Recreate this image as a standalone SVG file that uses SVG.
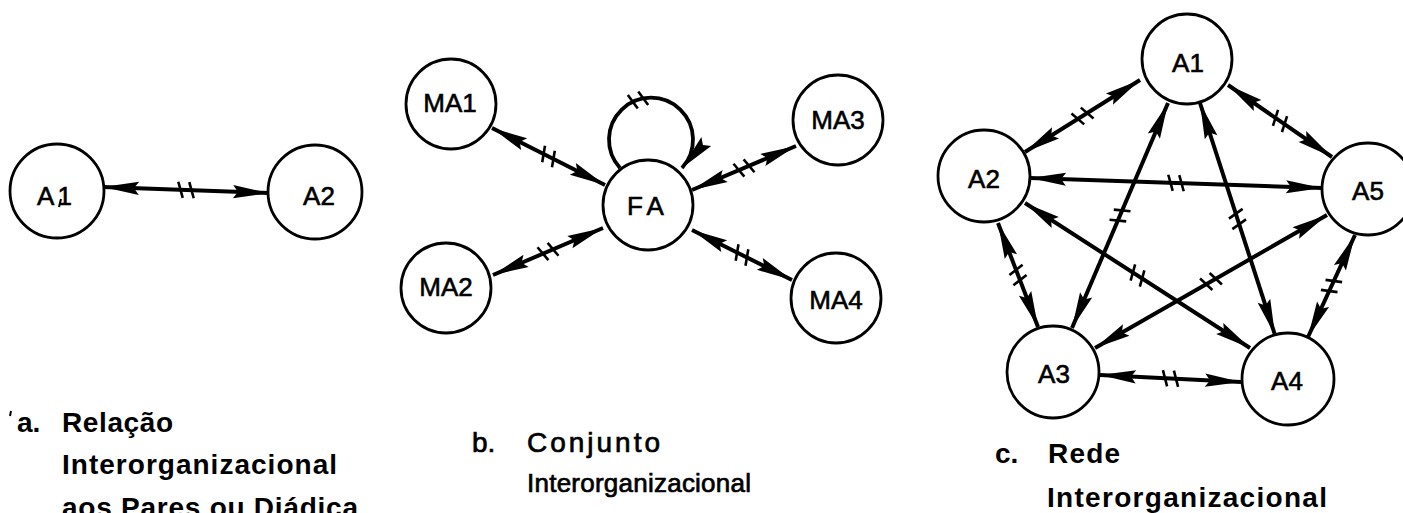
<svg xmlns="http://www.w3.org/2000/svg" xmlns:xlink="http://www.w3.org/1999/xlink" width="1403" height="513" viewBox="0 0 1403 513">
  <style>
    .node circle { fill: #fff; stroke: #000; stroke-width: 2.8; }
    .node text { font-family: "Liberation Sans", Arial, sans-serif; font-size: 26px; fill: #000; stroke: #000; stroke-width: 0.6; text-anchor: middle; }
    .edge { stroke: #000; stroke-width: 4; fill: none; marker-start: url(#ah); marker-end: url(#ah); }
    .loop { stroke: #000; stroke-width: 3.8; fill: none; marker-end: url(#ah); }
    .tick line { stroke: #000; stroke-width: 2.6; }
    .cap { font-family: "Liberation Sans", Arial, sans-serif; font-size: 28px; fill: #000; }
    .bold { font-weight: bold; }
    .med { stroke: #000; stroke-width: 0.7; }
  </style>
  <defs>
    <!-- slender two-way arrowhead, tip on the circle border -->
    <marker id="ah" viewBox="-40 -8 42 16" refX="0" refY="0" markerWidth="42" markerHeight="16" markerUnits="userSpaceOnUse" orient="auto-start-reverse">
      <path d="M0,0 L-36,-6.6 L-31,0 L-36,6.6 Z" fill="#000"/>
    </marker>
    <!-- double slanted bar crossing a link -->
    <g id="tk" class="tick">
      <line x1="-8" y1="-8" x2="-3" y2="8"/>
      <line x1="3" y1="-8" x2="8" y2="8"/>
    </g>
  </defs>

  <rect width="1403" height="513" fill="#fff"/>

  <!-- links -->
  <g id="connectors">
    <!-- a: dyad -->
    <line class="edge" x1="103" y1="187" x2="269" y2="193"/>
    <use xlink:href="#tk" transform="translate(186,190) rotate(2)"/>

    <!-- b: set around FA -->
    <line class="edge" x1="492" y1="128" x2="605" y2="185"/>
    <use xlink:href="#tk" transform="translate(548.5,156.5) rotate(27)"/>
    <line class="edge" x1="796" y1="146" x2="692" y2="190"/>
    <use xlink:href="#tk" transform="translate(744,168) rotate(-23)"/>
    <line class="edge" x1="493" y1="275" x2="603" y2="228"/>
    <use xlink:href="#tk" transform="translate(548,251.5) rotate(-23)"/>
    <line class="edge" x1="692" y1="230" x2="792" y2="280"/>
    <use xlink:href="#tk" transform="translate(742,255) rotate(27)"/>
    <path class="loop" d="M620,168 A42,42 0 1 1 682,168"/>
    <use xlink:href="#tk" transform="translate(638,100) rotate(-19)"/>

    <!-- c: full network -->
    <line class="edge" x1="1025" y1="152" x2="1140" y2="80"/>
    <use xlink:href="#tk" transform="translate(1082.5,116) rotate(-32)"/>
    <line class="edge" x1="1228" y1="85" x2="1332" y2="157"/>
    <use xlink:href="#tk" transform="translate(1280,121) rotate(35)"/>
    <line class="edge" x1="1030" y1="178" x2="1322" y2="188"/>
    <use xlink:href="#tk" transform="translate(1176,183) rotate(2)"/>
    <line class="edge" x1="1025" y1="203" x2="1250" y2="348"/>
    <use xlink:href="#tk" transform="translate(1137.5,275.5) rotate(33)"/>
    <line class="edge" x1="1168" y1="103" x2="1072" y2="328"/>
    <use xlink:href="#tk" transform="translate(1120,215.5) rotate(113)"/>
    <line class="edge" x1="1200" y1="103" x2="1275" y2="335"/>
    <use xlink:href="#tk" transform="translate(1237.5,219) rotate(72)"/>
    <line class="edge" x1="1327" y1="215" x2="1095" y2="348"/>
    <use xlink:href="#tk" transform="translate(1211,281.5) rotate(-30)"/>
    <line class="edge" x1="998" y1="223" x2="1038" y2="327"/>
    <use xlink:href="#tk" transform="translate(1018,275) rotate(69)"/>
    <line class="edge" x1="1355" y1="235" x2="1308" y2="337"/>
    <use xlink:href="#tk" transform="translate(1331.5,286) rotate(115)"/>
    <line class="edge" x1="1100" y1="375" x2="1241" y2="382"/>
    <use xlink:href="#tk" transform="translate(1170.5,378.5) rotate(3)"/>
  </g>

  <!-- a -->
  <g id="a-A1" class="node">
    <circle cx="57" cy="191" r="47"/>
    <text x="56" y="205" letter-spacing="3">A1</text>
    <path d="M61,199 L59,207" stroke="#000" stroke-width="2" fill="none"/>
  </g>
  <g id="a-A2" class="node">
    <circle cx="315" cy="192" r="47"/>
    <text x="319" y="205">A2</text>
  </g>

  <!-- b -->
  <g id="b-MA1" class="node">
    <circle cx="451" cy="104" r="45"/>
    <text x="450" y="112">MA1</text>
  </g>
  <g id="b-MA2" class="node">
    <circle cx="446" cy="288" r="45"/>
    <text x="446" y="296">MA2</text>
  </g>
  <g id="b-MA3" class="node">
    <circle cx="838" cy="120" r="45"/>
    <text x="838" y="129">MA3</text>
  </g>
  <g id="b-MA4" class="node">
    <circle cx="836" cy="298" r="45"/>
    <text x="836" y="309">MA4</text>
  </g>
  <g id="b-FA" class="node">
    <circle cx="648" cy="205" r="45"/>
    <text x="648" y="215" letter-spacing="5">FA</text>
  </g>

  <!-- c -->
  <g id="c-A1" class="node">
    <circle cx="1187" cy="59" r="45"/>
    <text x="1188" y="72">A1</text>
  </g>
  <g id="c-A2" class="node">
    <circle cx="984" cy="176" r="46"/>
    <text x="984" y="188">A2</text>
  </g>
  <g id="c-A5" class="node">
    <circle cx="1368" cy="189" r="46"/>
    <text x="1368" y="200">A5</text>
  </g>
  <g id="c-A3" class="node">
    <circle cx="1053" cy="372" r="46"/>
    <text x="1054" y="383">A3</text>
  </g>
  <g id="c-A4" class="node">
    <circle cx="1288" cy="379" r="46"/>
    <text x="1287" y="390">A4</text>
  </g>

  <!-- captions -->
  <g id="caption-a" class="cap bold">
    <path d="M11,411 L10,416" stroke="#000" stroke-width="2"/>
    <text x="17" y="432">a.</text>
    <text x="62" y="432" textLength="111" lengthAdjust="spacing">Relação</text>
    <text x="62" y="474" textLength="275" lengthAdjust="spacing">Interorganizacional</text>
    <text x="62" y="517" textLength="296" lengthAdjust="spacing">aos Pares ou Diádica</text>
  </g>
  <g id="caption-b" class="cap med">
    <text x="472" y="452">b.</text>
    <text x="527" y="452" textLength="133" lengthAdjust="spacing">Conjunto</text>
    <text x="527" y="492" font-size="26" textLength="224" lengthAdjust="spacing">Interorganizacional</text>
  </g>
  <g id="caption-c" class="cap bold">
    <text x="995" y="463">c.</text>
    <text x="1048" y="463" textLength="72" lengthAdjust="spacing">Rede</text>
    <text x="1047" y="507" textLength="280" lengthAdjust="spacing">Interorganizacional</text>
  </g>
</svg>
